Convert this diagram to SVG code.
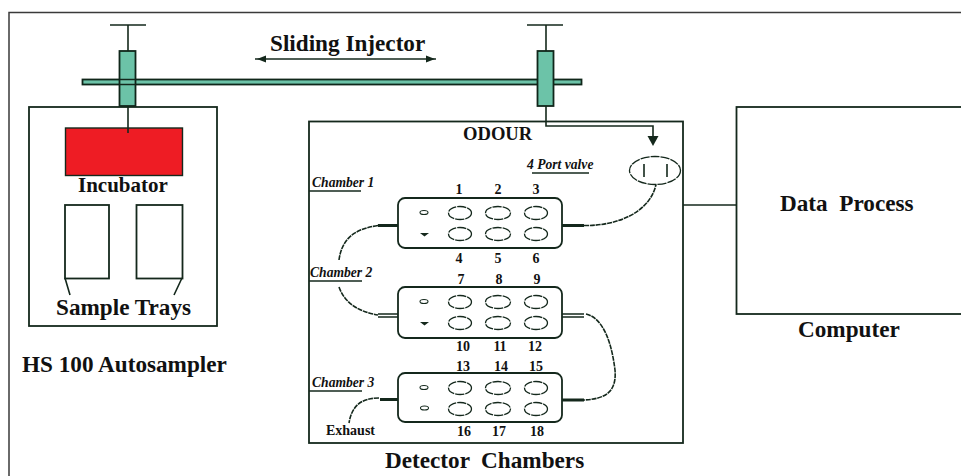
<svg xmlns="http://www.w3.org/2000/svg" width="961" height="476" viewBox="0 0 961 476">
<style>
.l{fill:none;stroke:#14281c;stroke-width:1.6}
.box{fill:#fff;stroke:#14281c;stroke-width:1.8}
.g{fill:#6cc3a8;stroke:#10261a;stroke-width:1.8}
.o{fill:#fff;stroke:#14281c;stroke-width:1.3;stroke-dasharray:9 1}
.s{fill:#fff;stroke:#14281c;stroke-width:1.1}
.t{font-family:"Liberation Serif",serif;font-weight:bold;fill:#111}
.b{font-size:23.200px}
.n{font-size:14px;text-anchor:middle}
.i{font-size:13.600px;font-style:italic}
.th{fill:none;stroke:#14281c;stroke-width:3}
.d{fill:none;stroke:#14281c;stroke-width:1.6;stroke-dasharray:5 0.8}
</style>
<defs>
<g id="cells">
<ellipse class="o" cx="62" cy="15" rx="11.500" ry="6.500"/><ellipse class="o" cx="100" cy="15" rx="12.500" ry="6.500"/><ellipse class="o" cx="138" cy="15" rx="11.500" ry="6.500"/>
<ellipse class="o" cx="62" cy="36" rx="11.500" ry="6.500"/><ellipse class="o" cx="100" cy="36" rx="12.500" ry="6.500"/><ellipse class="o" cx="138" cy="36" rx="11.500" ry="6.500"/>
<ellipse class="s" cx="26" cy="14.500" rx="4" ry="2"/>
</g>
</defs>
<rect width="961" height="476" fill="#fff"/>
<rect x="9" y="12.500" width="960" height="470" fill="none" stroke="#3a3a3a" stroke-width="1.5"/>

<g id="hs100-autosampler">
<rect class="box" x="29" y="107" width="188" height="219"/>
<text class="t b" x="22" y="372">HS 100 Autosampler</text>
</g>
<g id="incubator">
<rect x="65.500" y="128" width="117" height="47.500" fill="#ee1c24" stroke="#14281c" stroke-width="1.400"/>
<text class="t" font-size="21" x="78" y="192">Incubator</text>
</g>
<g id="sample-trays">
<rect class="box" x="65" y="205" width="44" height="73.500"/>
<rect class="box" x="136.500" y="205" width="46" height="73.500"/>
<path class="l" d="M65 278 70 295M182 278 174 295"/>
<text class="t b" x="56" y="315">Sample Trays</text>
</g>

<g id="sliding-injector">
<path class="l" d="M110 25H146M128 25V51M128 106V133"/>
<path class="l" d="M527 25H563M546 25V51"/>
<rect class="g" x="82.500" y="79.500" width="499" height="5"/>
<rect class="g" x="119.500" y="51" width="16" height="55"/>
<rect class="g" x="537.500" y="51" width="16" height="55"/>
<path class="l" d="M119.500 79.500H135.500M119.500 84.500H135.500"/>
<text class="t b" x="270" y="51">Sliding Injector</text>
<path class="l" d="M255 59H436"/>
<path d="M257 59 266 55.500V62.500ZM435 59 426 55.500V62.500Z" fill="#14281c"/>
</g>

<g id="detector-chambers">
<rect class="box" x="309" y="121.500" width="374" height="321.500"/>
<text class="t" font-size="18.600" x="463" y="140">ODOUR</text>
<text class="t i" x="527" y="169">4 Port valve</text>
<path class="l" d="M532 173H589"/>
<text class="t i" x="312" y="187">Chamber 1</text>
<path class="l" d="M309 191H361"/>
<text class="t i" x="310" y="277">Chamber 2</text>
<path class="l" d="M309 281H362"/>
<text class="t i" x="312" y="387">Chamber 3</text>
<path class="l" d="M309 391H362"/>
<text class="t" font-size="14" x="326" y="435">Exhaust</text>
<text class="t b" x="385" y="468" xml:space="preserve">Detector  Chambers</text>
</g>

<g id="valve">
<ellipse class="o" cx="655" cy="170.500" rx="25.500" ry="14"/>
<path class="l" d="M644 164V177M667 164V177"/>
</g>

<g id="chamber-1">
<rect class="box" x="398" y="198" width="164" height="50" rx="7"/>
<use href="#cells" x="398" y="198"/>
<path d="M420 233H429L424.500 236.500Z" fill="#14281c"/>
<g class="t n"><text x="459" y="194">1</text><text x="498" y="194">2</text><text x="536" y="194">3</text><text x="459" y="263">4</text><text x="498" y="263">5</text><text x="536" y="263">6</text></g>
</g>
<g id="chamber-2">
<rect class="box" x="398" y="287" width="164" height="51" rx="7"/>
<use href="#cells" x="398" y="287"/>
<path d="M420 322H429L424.500 325.500Z" fill="#14281c"/>
<g class="t n"><text x="461" y="284">7</text><text x="499" y="284">8</text><text x="537" y="284">9</text><text x="463" y="351">10</text><text x="500" y="351">11</text><text x="535" y="351">12</text></g>
</g>
<g id="chamber-3">
<rect class="box" x="398" y="373" width="164" height="49" rx="7"/>
<use href="#cells" x="398" y="373"/>
<ellipse class="s" cx="424.500" cy="408" rx="4" ry="2"/>
<g class="t n"><text x="463" y="371">13</text><text x="501" y="371">14</text><text x="536" y="371">15</text><text x="464" y="436">16</text><text x="499" y="436">17</text><text x="537" y="436">18</text></g>
</g>

<g id="computer">
<rect class="box" x="736.500" y="107" width="240" height="207"/>
<text class="t b" x="780" y="211" xml:space="preserve">Data  Process</text>
<text class="t b" x="798" y="337">Computer</text>
</g>

<g id="connectors">
<path class="l" d="M546 106V126H653V137"/>
<path d="M647.500 136H658.500L653 146Z" fill="#14281c"/>
<path class="l" d="M683 205H736.500"/>
<path class="th" d="M378 225.500H398M562 225.500H584"/>
<path class="d" d="M584 225.500C618 226 650 212 656 184.500"/>
<path class="d" d="M378 225.500C355 229 342 238 339 260"/>
<path class="d" d="M339 287C345 304 360 312 378 315"/>
<path class="l" d="M378 314H398M378 317H398M562 314H584M562 317H584"/>
<path class="d" d="M586 314C604 318 612 345 615 370C617 393 604 399 584 400"/>
<path class="th" d="M562 400H584M380 399.500H398"/>
<path class="d" d="M379 398C362 398 352 405 349 423"/>
</g>
</svg>
